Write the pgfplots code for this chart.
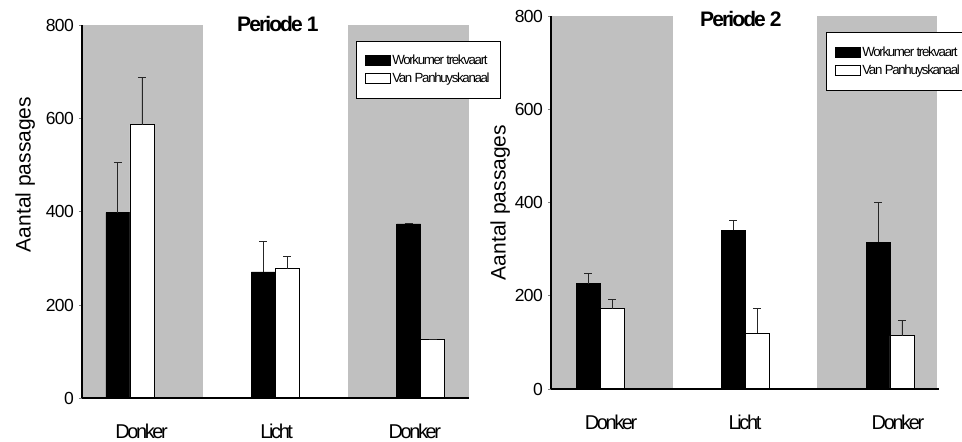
\documentclass[border=0pt]{standalone}
\usepackage{pgfplots}
\usepackage{pgfplotstable}
\pgfplotsset{compat=1.18}
\usepackage{fontspec}
\setmainfont{Liberation Sans}
\newfontfamily\tickfont[LetterSpace=-3.5]{Liberation Sans}
\newfontfamily\catfont[LetterSpace=-12]{Liberation Sans}
\newfontfamily\legfont[LetterSpace=-10]{Liberation Sans}
\newfontfamily\titfont[LetterSpace=-9]{Liberation Sans}

\definecolor{bandgray}{RGB}{192,192,192}

% period 1: value and upper error per light phase
\pgfplotstableread{
x y e
0 398 107
1 271 66
2 374 0
}\pOneWork
\pgfplotstableread{
x y e
0 587 101
1 278 26
2 126 0
}\pOnePan
% period 2
\pgfplotstableread{
x y e
0 226 21
1 340 21
2 315 85
}\pTwoWork
\pgfplotstableread{
x y e
0 172 20
1 120 52
2 114 32
}\pTwoPan

% half a bar width in axis units (bars sit side by side around each category)
\def\half{0.0827}

\pgfplotsset{
  barlegend/.style={legend image code/.code={\draw[##1, line width=0.8pt] (0pt,-5pt) rectangle (25pt,5pt);}},
  panel/.style={
    scale only axis, height=373pt,
    ymin=0, ymax=800, ytick={0,200,400,600,800},
    axis x line*=bottom, axis y line*=left,
    axis line style={-, line width=1.2pt},
    x axis line style={line width=1.6pt},
    xtick style={draw=none},
    ytick style={line width=0.9pt},
    tick align=outside, major tick length=3pt,
    /pgf/number format/assume math mode=true,
    yticklabel style={font=\tickfont\fontsize{17.5}{18}\selectfont, inner sep=0pt, xshift=-5pt},
    xticklabel style={font=\catfont\fontsize{20}{20}\selectfont, anchor=center, yshift=-30.5pt},
    ylabel={Aantal passages},
    label style={font=\fontsize{21}{21}\selectfont},
    title style={font=\titfont\bfseries\fontsize{21}{21}\selectfont, anchor=center},
    legend style={anchor=north west, draw=black, line width=0.8pt,
      font=\legfont\fontsize{13.3}{14}\selectfont,
      inner xsep=8.5pt, inner ysep=10.4pt, row sep=0.3pt,
      nodes={inner sep=2pt, text height=11pt, text depth=3pt},
      /tikz/every odd column/.append style={column sep=0pt}},
    legend cell align=left,
    axis on top,
    clip=false,
  },
  errstyle/.style={error bars/.cd, y dir=plus, y explicit,
    error bar style={line width=0.9pt, black!85},
    error mark options={rotate=90, mark size=4pt, line width=0.9pt, black!85}},
  workbar/.style={ybar, bar width=24pt, bar shift=0pt, fill=black, draw=black, line width=0.8pt, barlegend, errstyle},
  panbar/.style={ybar, bar width=24pt, bar shift=0pt, fill=white, draw=black, line width=0.8pt, barlegend, errstyle},
}

\begin{document}
\begin{tikzpicture}
\useasboundingbox (0,0) rectangle (962pt,442pt);

% Periode 1
\begin{axis}[panel, at={(82pt,43.7pt)}, anchor=south west, width=387pt,
  xmin=-0.33, xmax=2.333,
  xtick={0.08,1.01,1.96}, xticklabels={Donker,Licht,Donker},
  title={Periode 1}, title style={at={(0.506,0.987)}},
  ylabel style={at={(-0.147,0.6)}, anchor=center},
  legend style={at={(0.707,0.959)}}]
  \addplot[fill=bandgray, draw=none, forget plot] coordinates {(-0.33,800) (0.5,800)} \closedcycle;
  \addplot[fill=bandgray, draw=none, forget plot] coordinates {(1.5,800) (2.33,800)} \closedcycle;
  \addplot[workbar] table[x expr=\thisrow{x}-\half, y=y, y error=e] {\pOneWork};
  \addplot[panbar] table[x expr=\thisrow{x}+\half, y=y, y error=e] {\pOnePan};
  \addlegendentry{Workumer trekvaart}
  \addlegendentry{Van Panhuyskanaal}
\end{axis}

% Periode 2
\begin{axis}[panel, at={(551pt,53pt)}, anchor=south west, width=388.3pt,
  xmin=-0.338, xmax=2.34,
  xtick={0.076,1.0,2.055}, xticklabels={Donker,Licht,Donker},
  title={Periode 2}, title style={at={(0.489,0.976)}},
  ylabel style={at={(-0.131,0.5)}, anchor=center},
  legend style={at={(0.7075,0.956)}}]
  \addplot[fill=bandgray, draw=none, forget plot] coordinates {(-0.333,800) (0.501,800)} \closedcycle;
  \addplot[fill=bandgray, draw=none, forget plot] coordinates {(1.494,800) (2.322,800)} \closedcycle;
  \addplot[workbar] table[x expr=\thisrow{x}-\half, y=y, y error=e] {\pTwoWork};
  \addplot[panbar] table[x expr=\thisrow{x}+\half, y=y, y error=e] {\pTwoPan};
  \addlegendentry{Workumer trekvaart}
  \addlegendentry{Van Panhuyskanaal}
\end{axis}
\end{tikzpicture}
\end{document}
